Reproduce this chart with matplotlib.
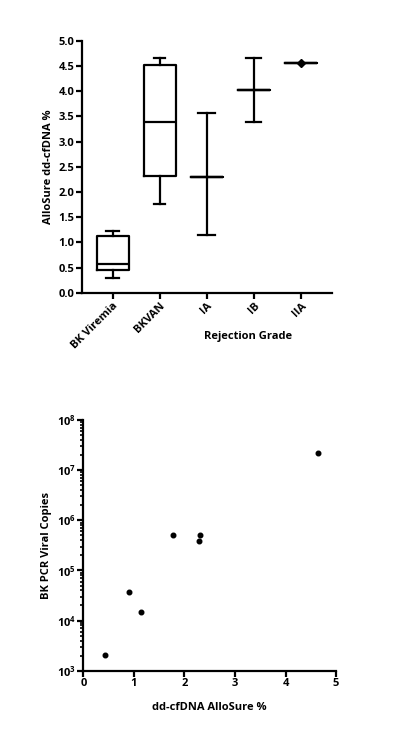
import numpy as np
import matplotlib
matplotlib.use('Agg')
import matplotlib.pyplot as plt
from matplotlib.ticker import LogLocator, NullFormatter

plt.rcParams['font.family'] = ['Open Sans', 'DejaVu Sans']
plt.rcParams['font.weight'] = 'bold'
plt.rcParams['axes.labelweight'] = 'bold'
plt.rcParams['mathtext.fontset'] = 'custom'
plt.rcParams['mathtext.rm'] = 'Open Sans:bold'
plt.rcParams['mathtext.default'] = 'rm'

# top panel: AlloSure by group
groups = ['BK Viremia', 'BKVAN', 'IA', 'IB', 'IIA']
whis_lo = [0.29, 1.77, 1.15, 3.38, 4.56]
q1 = [0.45, 2.32, 2.30, 4.02, 4.56]
med = [0.58, 3.38, 2.30, 4.02, 4.56]
q3 = [1.12, 4.53, 2.30, 4.02, 4.56]
whis_hi = [1.22, 4.65, 3.56, 4.65, 4.56]
single_grp = ['IIA']
single_val = [4.56]

# bottom panel: AlloSure vs BK viral load
allosure = [0.42, 0.90, 1.15, 1.77, 2.30, 2.29, 4.65]
copies = [2.1e3, 3.7e4, 1.5e4, 5.1e5, 5.1e5, 3.9e5, 2.2e7]

fig = plt.figure(figsize=(3.94, 7.43), dpi=100)

lw = 1.6
fs = 8

# ---- top
ax1 = fig.add_axes([0.208, 0.606, 0.635, 0.339])
stats = []
for i, g in enumerate(groups):
    stats.append(dict(label=g, whislo=whis_lo[i], q1=q1[i], med=med[i],
                      q3=q3[i], whishi=whis_hi[i], fliers=[]))
pos = np.arange(len(groups))
caps = [0.28, 0.23, 0.36, 0.32, 0.0]
ax1.bxp(stats, positions=pos, widths=0.68, capwidths=caps, showfliers=False,
        boxprops=dict(color='black', linewidth=lw),
        medianprops=dict(color='black', linewidth=lw),
        whiskerprops=dict(color='black', linewidth=lw),
        capprops=dict(color='black', linewidth=lw))
ax1.plot([groups.index(g) for g in single_grp], single_val, 'D',
         color='black', markersize=4.5)
ax1.set_xlim(-0.65, 4.66)
ax1.set_ylim(0, 5)
ax1.set_yticks(np.arange(0, 5.01, 0.5))
ax1.set_yticklabels(['%.1f' % v for v in np.arange(0, 5.01, 0.5)])
ax1.set_xticks(pos)
ax1.set_xticklabels(groups, rotation=45, ha='right', rotation_mode='anchor')
ax1.spines['top'].set_visible(False)
ax1.spines['right'].set_visible(False)
for s in ['left', 'bottom']:
    ax1.spines[s].set_linewidth(lw)
ax1.tick_params(width=lw, length=4, labelsize=fs, pad=1.5)
ax1.set_ylabel('AlloSure dd-cfDNA %', fontsize=fs, labelpad=3)
ax1.set_xlabel('Rejection Grade', fontsize=fs)
ax1.xaxis.set_label_coords(0.664, -0.152)

# ---- bottom
ax2 = fig.add_axes([0.2115, 0.0973, 0.6415, 0.3374])
ax2.plot(allosure, copies, 'o', color='black', markersize=3.3)
ax2.set_yscale('log')
ax2.set_xlim(0, 5)
ax2.set_ylim(1e3, 1e8)
ax2.set_xticks(range(6))
ax2.yaxis.set_major_locator(LogLocator(base=10, numticks=10))
ax2.yaxis.set_minor_locator(LogLocator(base=10, subs=np.arange(2, 10), numticks=20))
ax2.yaxis.set_minor_formatter(NullFormatter())
ax2.spines['top'].set_visible(False)
ax2.spines['right'].set_visible(False)
for s in ['left', 'bottom']:
    ax2.spines[s].set_linewidth(lw)
ax2.tick_params(which='major', width=lw, length=4, labelsize=fs, pad=1.5)
ax2.tick_params(which='minor', width=1.2, length=2.5)
ax2.set_ylabel('BK PCR Viral Copies', fontsize=fs, labelpad=3)
ax2.set_xlabel('dd-cfDNA AlloSure %', fontsize=fs, labelpad=9)

fig.savefig('out.png', dpi=100)
